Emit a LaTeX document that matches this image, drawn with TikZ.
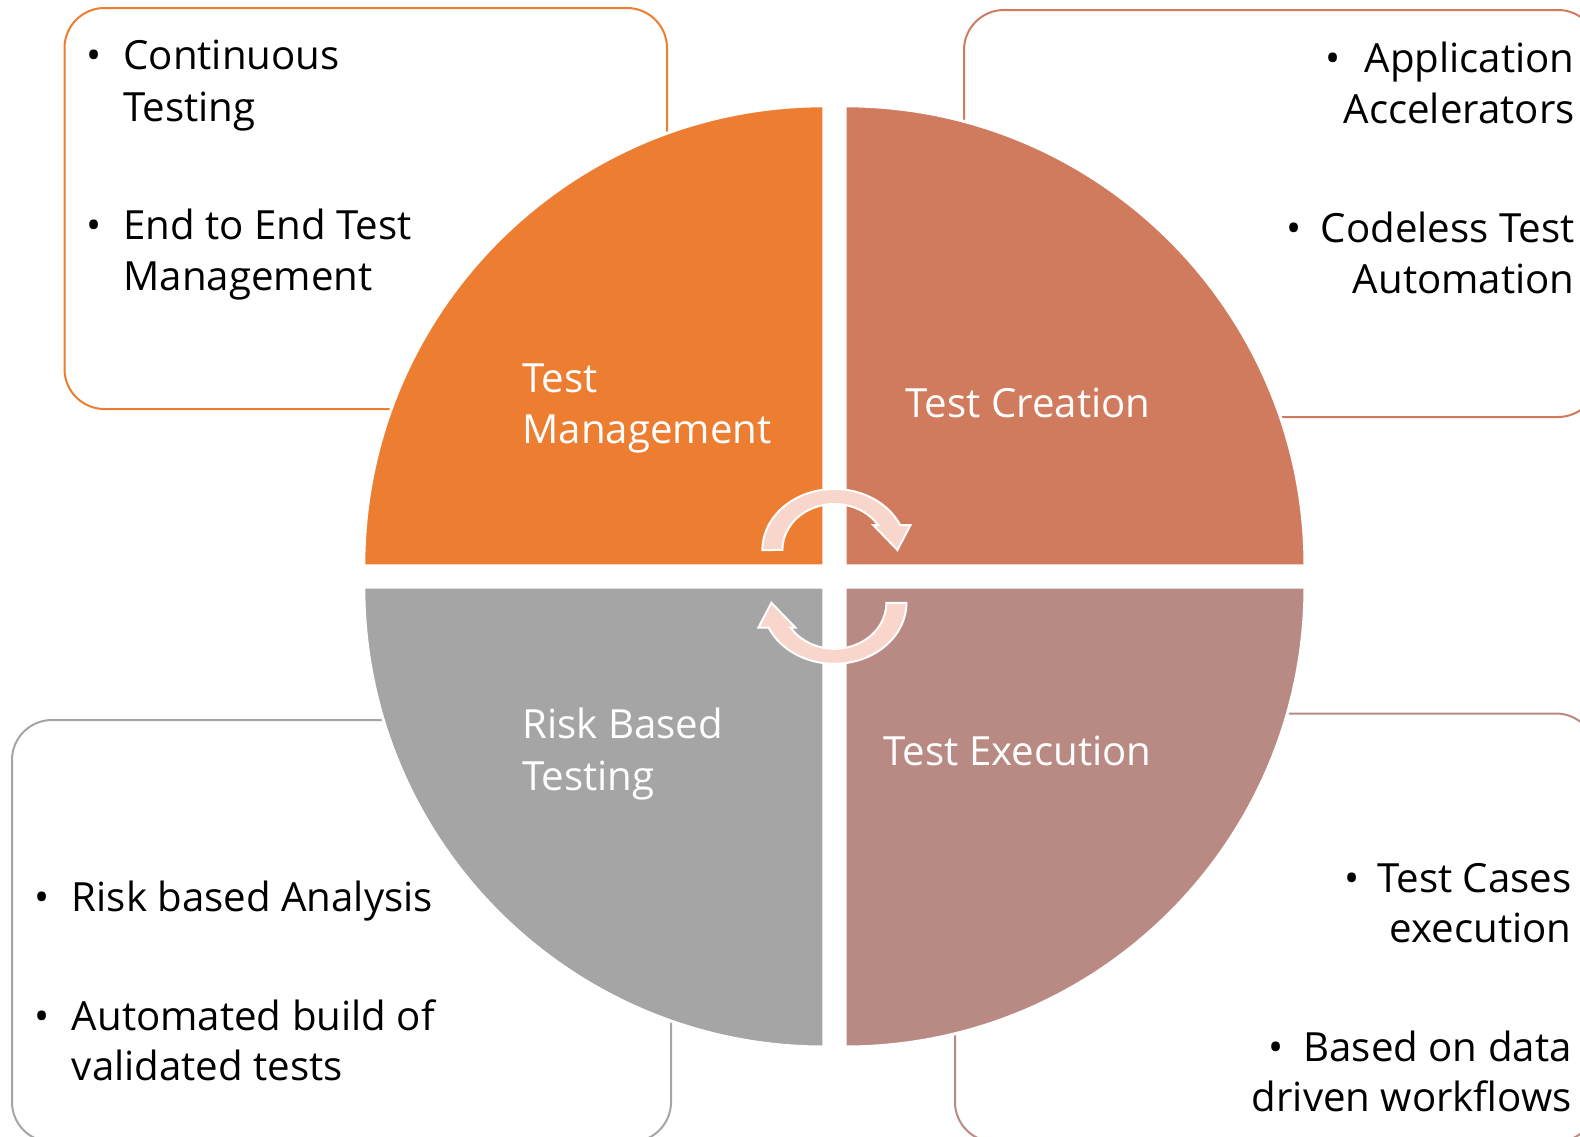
\documentclass[tikz,border=0pt]{standalone}
\usepackage{fontspec}
\setmainfont{Open Sans}
\usetikzlibrary{calc}
\definecolor{cOr}{HTML}{ED7D31}
\definecolor{cTc}{HTML}{D17B5E}
\definecolor{cRo}{HTML}{B98A83}
\definecolor{cGr}{HTML}{A5A5A5}
\definecolor{cAr}{HTML}{F8D6CC}
\begin{document}
\begin{tikzpicture}[x=0.5pt,y=-0.5pt,
  boxline/.style={line width=1pt, rounded corners=20pt, fill=white},
  quad/.style={draw=white, line width=1.5pt},
  txt/.style={inner sep=0pt, font=\fontsize{20.1}{24}\selectfont, text=black},
  lbl/.style={inner sep=0pt, font=\fontsize{20.1}{24}\selectfont, text=white},
  bul/.style={inner sep=0pt, anchor=base, font=\fontsize{20.1}{24}\selectfont},
  cyc/.style={fill=cAr, draw=white, line width=1pt}]
\useasboundingbox (0,0) rectangle (1580,1136);
% side boxes
\draw[boxline, draw=cOr] (64.5,8) rectangle (667,409);
\draw[boxline, draw=cTc] (964,10) rectangle (1598,417);
\draw[boxline, draw=cGr] (12,720) rectangle (671,1142);
\draw[boxline, draw=cRo] (955,713.5) rectangle (1596,1142);
% quadrants
\path[quad, fill=cOr] (823.8,565.8) -- (363.8,565.8) arc[start angle=180,end angle=270,radius=460] -- cycle;
\path[quad, fill=cTc] (845,105.8) arc[start angle=270,end angle=360,radius=460] -- (845,565.8) -- cycle;
\path[quad, fill=cRo] (1305,587) arc[start angle=0,end angle=90,radius=460] -- (845,587) -- cycle;
\path[quad, fill=cGr] (823.8,1047) arc[start angle=90,end angle=180,radius=460] -- (823.8,587) -- cycle;
% cycle arrows
\begin{scope}[shift={(834.4,550)}]
\path[cyc] (-72,0) arc[start angle=180,end angle=336,x radius=72,y radius=61] -- (76,-24.8) -- (63,0) -- (39,-24.8) -- (43.8,-24.8) arc[start angle=327.4,end angle=180,x radius=52,y radius=46] -- cycle;
\end{scope}
\begin{scope}[rotate around={180:(834.4,576.4)}]
\begin{scope}[shift={(834.4,550)}]
\path[cyc] (-72,0) arc[start angle=180,end angle=336,x radius=72,y radius=61] -- (76,-24.8) -- (63,0) -- (39,-24.8) -- (43.8,-24.8) arc[start angle=327.4,end angle=180,x radius=52,y radius=46] -- cycle;
\end{scope}
\end{scope}
% quadrant labels
\node[lbl, anchor=base west] (q1a) at (522,392) {Test};
\node[lbl, anchor=base west] (q1b) at (522,443.4) {Management};
\node[lbl, anchor=base west] (q2) at (905,417) {Test Creation};
\node[lbl, anchor=base west] (q3a) at (522,738.6) {Risk Based};
\node[lbl, anchor=base west] (q3b) at (522,790) {Testing};
\node[lbl, anchor=base west] (q4) at (883,765) {Test Execution};
% top-left box text
\node[bul] (tlb1) at (93.7,69.5) {•};
\node[txt, anchor=base west] (tl1) at (123,69.5) {Continuous};
\node[txt, anchor=base west] (tl2) at (123,121) {Testing};
\node[bul] (tlb2) at (93.7,239) {•};
\node[txt, anchor=base west] (tl3) at (123,239) {End to End Test};
\node[txt, anchor=base west] (tl4) at (123,290) {Management};
% top-right box text
\node[bul] (trb1) at (1333,72.5) {•};
\node[txt, anchor=base east] (tr1) at (1575,72.5) {Application};
\node[txt, anchor=base east] (tr2) at (1575,123) {Accelerators};
\node[bul] (trb2) at (1294,242) {•};
\node[txt, anchor=base east] (tr3) at (1575,242) {Codeless Test};
\node[txt, anchor=base east] (tr4) at (1575,293) {Automation};
% bottom-left box text
\node[bul] (blb1) at (42.3,911) {•};
\node[txt, anchor=base west] (bl1) at (71.5,911) {Risk based Analysis};
\node[bul] (blb2) at (42.3,1030) {•};
\node[txt, anchor=base west] (bl2) at (71.5,1030) {Automated build of};
\node[txt, anchor=base west] (bl3) at (71.5,1080) {validated tests};
% bottom-right box text
\node[bul] (brb1) at (1352,892) {•};
\node[txt, anchor=base east] (br1) at (1572,892) {Test Cases};
\node[txt, anchor=base east] (br2) at (1572,942) {execution};
\node[bul] (brb2) at (1276,1061) {•};
\node[txt, anchor=base east] (br3) at (1572,1061) {Based on data};
\node[txt, anchor=base east] (br4) at (1572,1111) {driven workflows};
\end{tikzpicture}
\end{document}
